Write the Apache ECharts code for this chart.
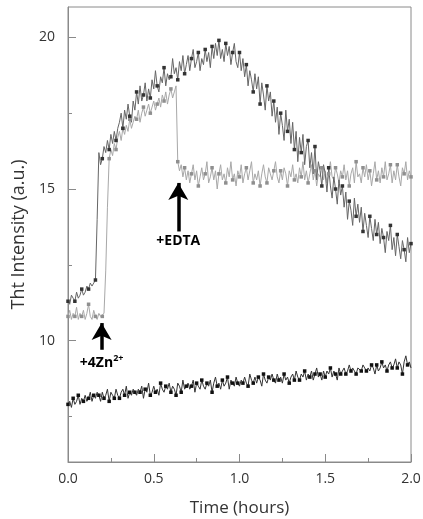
<!DOCTYPE html>
<html><head><meta charset="utf-8">
<script src="https://cdn.jsdelivr.net/npm/echarts@6/dist/echarts.min.js"></script>
<style>html,body{margin:0;padding:0;background:#fff}#c{width:423px;height:519px}</style>
</head><body><div id="c"></div>
<script>
const times = [
0,0.01,0.02,0.03,0.04,0.05,0.06,0.07,0.08,0.09,
0.1,0.11,0.12,0.13,0.14,0.15,0.16,0.17,0.18,0.19,
0.2,0.21,0.22,0.23,0.24,0.25,0.26,0.27,0.28,0.29,
0.3,0.31,0.32,0.33,0.34,0.35,0.36,0.37,0.38,0.39,
0.4,0.41,0.42,0.43,0.44,0.45,0.46,0.47,0.48,0.49,
0.5,0.51,0.52,0.53,0.54,0.55,0.56,0.57,0.58,0.59,
0.6,0.61,0.62,0.63,0.64,0.65,0.66,0.67,0.68,0.69,
0.7,0.71,0.72,0.73,0.74,0.75,0.76,0.77,0.78,0.79,
0.8,0.81,0.82,0.83,0.84,0.85,0.86,0.87,0.88,0.89,
0.9,0.91,0.92,0.93,0.94,0.95,0.96,0.97,0.98,0.99,
1.0,1.01,1.02,1.03,1.04,1.05,1.06,1.07,1.08,1.09,
1.1,1.11,1.12,1.13,1.14,1.15,1.16,1.17,1.18,1.19,
1.2,1.21,1.22,1.23,1.24,1.25,1.26,1.27,1.28,1.29,
1.3,1.31,1.32,1.33,1.34,1.35,1.36,1.37,1.38,1.39,
1.4,1.41,1.42,1.43,1.44,1.45,1.46,1.47,1.48,1.49,
1.5,1.51,1.52,1.53,1.54,1.55,1.56,1.57,1.58,1.59,
1.6,1.61,1.62,1.63,1.64,1.65,1.66,1.67,1.68,1.69,
1.7,1.71,1.72,1.73,1.74,1.75,1.76,1.77,1.78,1.79,
1.8,1.81,1.82,1.83,1.84,1.85,1.86,1.87,1.88,1.89,
1.9,1.91,1.92,1.93,1.94,1.95,1.96,1.97,1.98,1.99,
2.0];
const znOnly = [
11.3,11.2,11.5,11.4,11.3,11.6,11.4,11.5,11.7,11.5,
11.6,11.8,11.7,11.9,11.8,11.9,12.0,14.0,16.2,15.8,
16.0,16.4,16.2,16.6,16.3,16.8,16.5,16.9,16.6,17.0,
17.2,17.5,17.0,17.6,17.3,17.8,17.4,17.2,17.9,17.6,
18.2,17.8,18.4,17.9,18.1,18.5,17.9,18.3,18.0,18.6,
18.3,18.9,18.4,18.2,18.7,18.5,19.0,18.4,18.8,18.6,
18.7,19.3,18.8,19.0,18.6,19.2,18.9,19.4,18.8,19.1,
19.4,18.9,19.3,19.6,19.0,19.2,19.5,18.9,19.3,19.1,
19.6,19.2,19.5,19.0,19.7,19.3,19.8,19.4,19.9,19.3,
19.6,19.2,19.8,19.4,19.7,19.1,19.5,19.8,19.2,19.0,
19.5,18.9,19.3,18.7,19.1,18.4,18.9,18.6,18.2,18.8,
18.3,18.7,17.8,18.5,18.1,17.6,18.4,17.9,18.2,17.4,
17.9,17.2,17.7,16.8,17.5,17.1,16.6,17.6,16.9,17.3,
16.5,17.2,16.3,16.9,15.9,16.7,16.2,16.8,15.8,16.4,
16.6,15.7,16.2,15.5,16.4,15.3,15.9,15.6,15.1,15.8,
15.5,14.9,15.7,15.1,14.7,15.4,15.0,14.5,15.3,14.8,
15.1,14.4,14.9,14.0,14.6,14.3,13.8,14.7,14.1,14.5,
13.9,14.4,13.6,14.2,13.8,13.4,14.1,13.7,13.3,14.0,
13.5,13.9,13.2,13.7,13.4,12.9,13.6,13.3,13.8,13.0,
13.4,12.8,13.5,13.1,12.7,13.3,13.0,12.6,13.4,12.9,
13.2];
const znEdta = [
10.8,11.0,10.7,10.9,10.8,11.1,10.7,10.9,10.8,11.0,
10.7,10.9,11.2,10.8,10.7,11.0,10.8,10.7,10.9,10.8,
10.8,10.9,12.3,14.4,16.0,16.3,16.1,16.5,16.3,16.7,
16.9,16.6,17.0,16.8,17.1,16.9,17.3,17.0,17.2,17.4,
17.3,17.6,17.2,17.5,17.7,17.4,17.6,17.8,17.5,17.7,
17.9,17.6,17.8,18.0,17.7,18.1,17.9,18.2,17.8,18.1,
18.3,18.0,18.2,18.4,15.9,15.6,15.8,15.4,15.7,15.3,
15.6,15.2,15.5,15.8,15.3,15.6,15.1,15.4,15.7,15.3,
15.5,15.9,15.2,15.4,15.7,15.3,15.6,15.0,15.5,15.8,
15.3,15.5,15.2,15.7,15.4,15.9,15.3,15.5,15.1,15.6,
15.4,15.8,15.2,15.5,15.7,15.3,15.6,15.9,15.2,15.5,
15.3,15.6,15.1,15.5,15.8,15.4,15.2,15.7,15.5,15.3,
15.6,15.9,15.4,15.2,15.6,15.3,15.7,15.5,15.1,15.6,
15.4,15.8,15.3,15.5,15.2,15.7,15.4,15.9,15.3,15.6,
15.2,15.5,15.8,15.3,15.6,15.1,15.5,15.4,15.7,15.3,
15.6,15.2,15.5,15.9,15.4,15.3,15.7,15.5,15.2,15.6,
15.4,15.8,15.3,15.6,15.1,15.5,15.7,15.2,15.9,15.4,
15.5,15.2,15.7,15.4,15.8,15.3,15.6,15.1,15.5,15.9,
15.3,15.6,15.2,15.7,15.4,15.9,15.3,15.5,15.8,15.2,
15.6,15.3,15.8,15.4,15.1,15.7,15.5,15.9,15.3,15.6,
15.4];
const control = [
7.9,8.0,7.8,8.1,7.9,8.0,8.2,7.9,8.1,8.0,
8.2,8.0,8.1,8.3,8.0,8.2,8.1,8.3,8.2,8.0,
8.3,8.1,8.2,8.4,8.0,8.3,8.2,8.1,8.4,8.2,
8.1,8.3,8.4,8.2,8.5,8.1,8.3,8.2,8.4,8.3,
8.2,8.4,8.3,8.5,8.1,8.4,8.3,8.6,8.2,8.3,
8.5,8.3,8.4,8.2,8.6,8.4,8.3,8.5,8.4,8.6,
8.3,8.5,8.4,8.2,8.6,8.5,8.3,8.7,8.4,8.5,
8.6,8.4,8.5,8.7,8.3,8.6,8.5,8.4,8.7,8.5,
8.4,8.6,8.5,8.7,8.3,8.6,8.8,8.5,8.6,8.4,
8.7,8.5,8.6,8.8,8.4,8.7,8.6,8.5,8.8,8.6,
8.5,8.7,8.6,8.8,8.6,8.5,8.9,8.7,8.6,8.8,
8.6,8.8,8.7,8.5,8.9,8.7,8.6,8.8,8.7,8.9,
8.7,8.6,8.9,8.7,8.8,8.6,8.9,8.7,8.8,8.6,
8.8,8.9,8.7,9.0,8.8,8.7,8.9,8.8,9.0,8.7,
8.9,8.8,9.0,8.7,8.9,9.1,8.8,8.9,8.7,9.0,
8.8,9.0,8.9,9.1,8.8,9.0,8.9,8.7,9.1,8.9,
9.0,9.1,8.9,9.0,9.2,9.0,9.1,9.0,8.9,9.1,
9.1,9.0,9.2,9.1,9.0,9.1,9.0,9.2,9.1,8.9,
9.2,9.0,9.1,9.3,9.1,9.2,9.0,9.2,9.3,9.1,
9.2,9.4,9.1,9.3,9.2,8.9,9.3,9.5,9.2,9.3,
9.1];
const xTicks = [0, 0.5, 1, 1.5, 2];
const xMinorTicks = [0.25, 0.75, 1.25, 1.75];
const yTicks = [10, 15, 20];
const yMinorTicks = [7.5, 12.5, 17.5];
const xName = 'Time (hours)';
const yName = 'Tht Intensity (a.u.)';
const annotations = [
  {text: '{b|+EDTA}', x: 0.643, tail: 13.6, tip: 15.2, textY: 13.27},
  {text: '{b|+4Zn}{sup|2+}', x: 0.196, tail: 9.7, tip: 10.58, textY: 9.25}
];

const font = "'Open Sans', 'Noto Sans', sans-serif";
const axisColor = '#8a8a8a';
const textColor = '#333';
const pair = arr => times.map((t, i) => [t, arr[i]]);
const sizeEvery = (n, s) => (v, p) => (p.dataIndex % n === 0 ? s : 0);

const chart = echarts.init(document.getElementById('c'));
chart.setOption({
  animation: false,
  backgroundColor: '#fff',
  grid: [
    {left: 68, right: 12, top: 7, bottom: 57, containLabel: false, outerBoundsMode: 'none',
     show: true, borderColor: axisColor, borderWidth: 1},
    {left: 68, right: 12, top: 7, bottom: 57, containLabel: false, outerBoundsMode: 'none'}
  ],
  xAxis: [{
    type: 'value', gridIndex: 0, min: 0, max: 2,
    name: xName, nameLocation: 'middle', nameGap: 38,
    nameTextStyle: {fontFamily: font, fontSize: 17, color: textColor},
    axisLine: {lineStyle: {color: axisColor, width: 1}},
    axisTick: {show: true, inside: true, length: 8, customValues: xTicks, lineStyle: {color: axisColor}},
    axisLabel: {customValues: xTicks, formatter: v => v.toFixed(1), fontFamily: font, fontSize: 14, color: textColor, margin: 10},
    splitLine: {show: false}
  }, {
    type: 'value', gridIndex: 1, min: 0, max: 2,
    axisLine: {show: false},
    axisTick: {show: true, inside: true, length: 4, customValues: xMinorTicks, lineStyle: {color: axisColor}},
    axisLabel: {show: false}, splitLine: {show: false}
  }],
  yAxis: [{
    type: 'value', gridIndex: 0, min: 6, max: 21,
    name: yName, nameLocation: 'middle', nameGap: 33, nameRotate: 90,
    nameTextStyle: {fontFamily: font, fontSize: 18, color: textColor},
    axisLine: {show: true, lineStyle: {color: axisColor, width: 1}},
    axisTick: {show: true, inside: true, length: 8, customValues: yTicks, lineStyle: {color: axisColor}},
    axisLabel: {customValues: yTicks, fontFamily: font, fontSize: 14, color: textColor, margin: 13},
    splitLine: {show: false}
  }, {
    type: 'value', gridIndex: 1, min: 6, max: 21,
    axisLine: {show: false},
    axisTick: {show: true, inside: true, length: 4, customValues: yMinorTicks, lineStyle: {color: axisColor}},
    axisLabel: {show: false}, splitLine: {show: false}
  }],
  series: [
    {
      type: 'line', name: 'control', data: pair(control),
      symbol: 'rect', symbolSize: sizeEvery(3, 3.5), showAllSymbol: true,
      itemStyle: {color: '#111'}, lineStyle: {color: '#333', width: 1}
    },
    {
      type: 'line', name: 'Zn + EDTA', data: pair(znEdta),
      symbol: 'rect', symbolSize: sizeEvery(4, 3.5), showAllSymbol: true,
      itemStyle: {color: '#8f8f8f'}, lineStyle: {color: '#a8a8a8', width: 1},
      markLine: {
        silent: true, symbol: ['none', 'arrow'], symbolSize: [15, 17],
        lineStyle: {color: '#000', width: 3.5, type: 'solid'},
        label: {show: false},
        data: annotations.map(a => [{coord: [a.x, a.tail]}, {coord: [a.x, a.tip]}])
      },
      markPoint: {
        silent: true, symbol: 'rect', symbolSize: 0,
        label: {
          show: true, position: 'inside', color: '#000',
          rich: {
            b: {fontFamily: font, fontSize: 14, fontWeight: 'bold', color: '#000'},
            sup: {fontFamily: font, fontSize: 9, fontWeight: 'bold', color: '#000', padding: [0, 0, 9, 0]}
          }
        },
        data: annotations.map(a => ({coord: [a.x, a.textY], label: {formatter: a.text}}))
      }
    },
    {
      type: 'line', name: 'Zn', data: pair(znOnly),
      symbol: 'rect', symbolSize: sizeEvery(4, 3.5), showAllSymbol: true,
      itemStyle: {color: '#333'}, lineStyle: {color: '#666', width: 1}
    }
  ]
});
</script>
</body></html>
